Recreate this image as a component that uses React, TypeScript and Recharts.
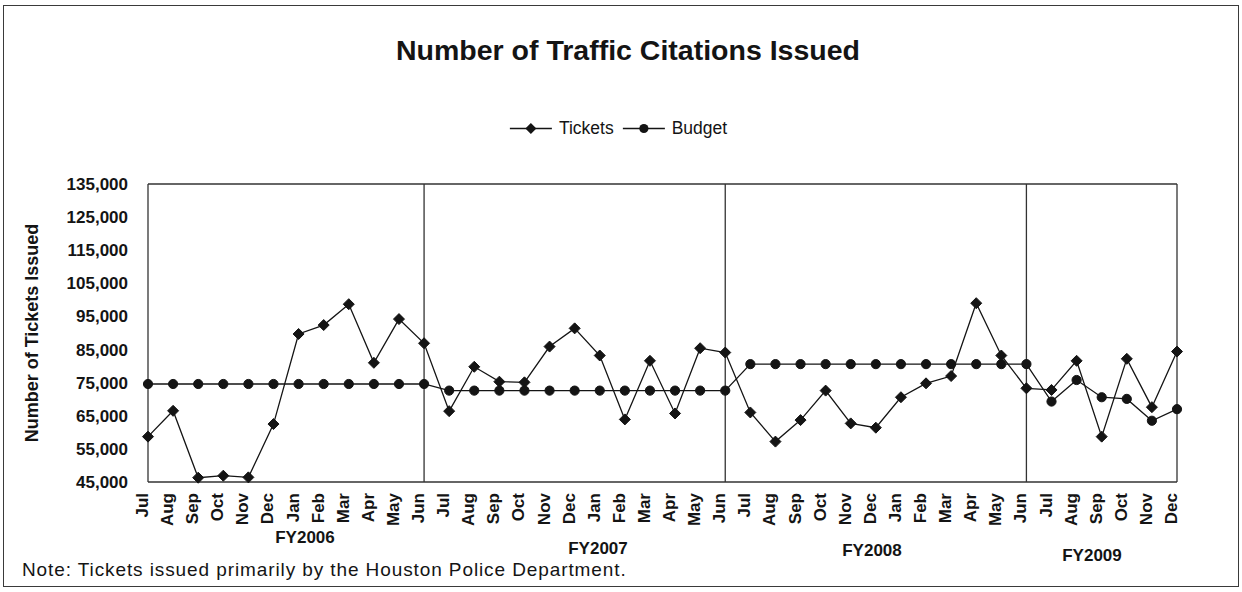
import { LineChart, Line, XAxis, YAxis, ReferenceLine } from "recharts";

const fyMonths = ["Jul", "Aug", "Sep", "Oct", "Nov", "Dec", "Jan", "Feb", "Mar", "Apr", "May", "Jun"];
const monthLabels = [...fyMonths, ...fyMonths, ...fyMonths, ...fyMonths.slice(0, 6)];

const tickets = [
  58700, 66500, 46300, 46900, 46400, 62500, 89700, 92400, 98700, 81000, 94200, 86900,
  66400, 79800, 75300, 75100, 85900, 91400, 83200, 63900, 81600, 65700, 85400, 84100,
  66000, 57200, 63700, 72600, 62700, 61400, 70600, 74800, 77000, 99000, 83200, 73300,
  72800, 81600, 58700, 82200, 67600, 84400,
];

const budget = [
  74600, 74600, 74600, 74600, 74600, 74600, 74600, 74600, 74600, 74600, 74600, 74600,
  72600, 72600, 72600, 72600, 72600, 72600, 72600, 72600, 72600, 72600, 72600, 72600,
  80600, 80600, 80600, 80600, 80600, 80600, 80600, 80600, 80600, 80600, 80600, 80600,
  69300, 75800, 70600, 70100, 63500, 67000,
];

const yTicks = [45000, 55000, 65000, 75000, 85000, 95000, 105000, 115000, 125000, 135000];
const fyDividers = [11, 23, 35];
const fyLabels = [
  { text: "FY2006", left: 305, top: 537 },
  { text: "FY2007", left: 598, top: 548 },
  { text: "FY2008", left: 872, top: 550 },
  { text: "FY2009", left: 1092, top: 555 },
];

const data = monthLabels.map((m, i) => ({ i, month: m, tickets: tickets[i], budget: budget[i] }));

const FONT = "Arial, 'Liberation Sans', sans-serif";
const INK = "#141414";

const Diamond = (props: any) => {
  const { cx, cy } = props;
  if (cx == null || cy == null) return null;
  const s = 5.5;
  return (
    <path
      d={`M${cx},${cy - s} L${cx + s},${cy} L${cx},${cy + s} L${cx - s},${cy} Z`}
      fill={INK}
      stroke={INK}
    />
  );
};

const Dot = (props: any) => {
  const { cx, cy } = props;
  if (cx == null || cy == null) return null;
  return <circle cx={cx} cy={cy} r={4.6} fill={INK} stroke={INK} />;
};

const MonthTick = (props: any) => {
  const { x, y, payload } = props;
  const ty = y + 11;
  return (
    <text
      x={x}
      y={ty}
      transform={`rotate(-90, ${x}, ${ty})`}
      textAnchor="end"
      fontSize={17}
      fontWeight="bold"
      fontFamily={FONT}
      fill={INK}
    >
      {monthLabels[payload.value]}
    </text>
  );
};

const LegendItem = ({ label, marker }: { label: string; marker: "diamond" | "circle" }) => (
  <div style={{ display: "flex", alignItems: "center", marginRight: 8 }}>
    <svg width={44} height={14}>
      <line x1={1} y1={7} x2={43} y2={7} stroke={INK} strokeWidth={1.3} />
      {marker === "diamond" ? (
        <path d="M22,1.5 L27.5,7 L22,12.5 L16.5,7 Z" fill={INK} />
      ) : (
        <circle cx={22} cy={7} r={4.6} fill={INK} />
      )}
    </svg>
    <span style={{ marginLeft: 6 }}>{label}</span>
  </div>
);

export default function App() {
  return (
    <div style={{ position: "absolute", left: 0, top: 0, width: 1242, height: 592, background: "#fff", fontFamily: FONT, color: INK }}>
      <div style={{ position: "absolute", left: 3, top: 5, width: 1234, height: 580, border: "1.5px solid #3a3a3a" }} />

      <div style={{ position: "absolute", left: 628, top: 50, transform: "translate(-50%, -50%)", fontSize: 28.5, fontWeight: "bold", whiteSpace: "nowrap" }}>
        Number of Traffic Citations Issued
      </div>

      <div style={{ position: "absolute", left: 622, top: 128, transform: "translate(-50%, -50%)", display: "flex", fontSize: 17.5, whiteSpace: "nowrap" }}>
        <LegendItem label="Tickets" marker="diamond" />
        <LegendItem label="Budget" marker="circle" />
      </div>

      <div style={{ position: "absolute", left: 32, top: 333, transform: "translate(-50%, -50%) rotate(-90deg)", fontSize: 18, fontWeight: "bold", whiteSpace: "nowrap" }}>
        Number of Tickets Issued
      </div>

      <div style={{ position: "absolute", left: 0, top: 0 }}>
        <LineChart width={1242} height={592} data={data} margin={{ top: 184, right: 65, left: 68, bottom: 70 }}>
          <XAxis
            dataKey="i"
            type="category"
            interval={0}
            tick={<MonthTick />}
            tickLine={false}
            axisLine={false}
            tickSize={0}
            tickMargin={0}
            height={40}
          />
          <YAxis
            type="number"
            domain={[45000, 135000]}
            ticks={yTicks}
            tickFormatter={(v: number) => v.toLocaleString("en-US")}
            tick={{ fontSize: 17, fontWeight: "bold", fontFamily: FONT, fill: INK }}
            tickLine={false}
            axisLine={false}
            tickSize={0}
            tickMargin={20}
            width={80}
          />
          <ReferenceLine y={135000} stroke="#333" strokeWidth={1.3} />
          <ReferenceLine y={45000} stroke="#333" strokeWidth={1.3} />
          <ReferenceLine x={0} stroke="#333" strokeWidth={1.3} />
          <ReferenceLine x={41} stroke="#333" strokeWidth={1.3} />
          {fyDividers.map((d) => (
            <ReferenceLine key={d} x={d} stroke="#333" strokeWidth={1.3} />
          ))}
          <Line dataKey="budget" stroke={INK} strokeWidth={1.3} dot={<Dot />} isAnimationActive={false} />
          <Line dataKey="tickets" stroke={INK} strokeWidth={1.3} dot={<Diamond />} isAnimationActive={false} />
        </LineChart>
      </div>

      {fyLabels.map((f) => (
        <div key={f.text} style={{ position: "absolute", left: f.left, top: f.top, transform: "translate(-50%, -50%)", fontSize: 17, fontWeight: "bold", lineHeight: 1 }}>
          {f.text}
        </div>
      ))}

      <div style={{ position: "absolute", left: 22, top: 569, transform: "translateY(-50%)", fontSize: 19, letterSpacing: 0.9, whiteSpace: "nowrap", lineHeight: 1 }}>
        Note: Tickets issued primarily by the Houston Police Department.
      </div>
    </div>
  );
}
